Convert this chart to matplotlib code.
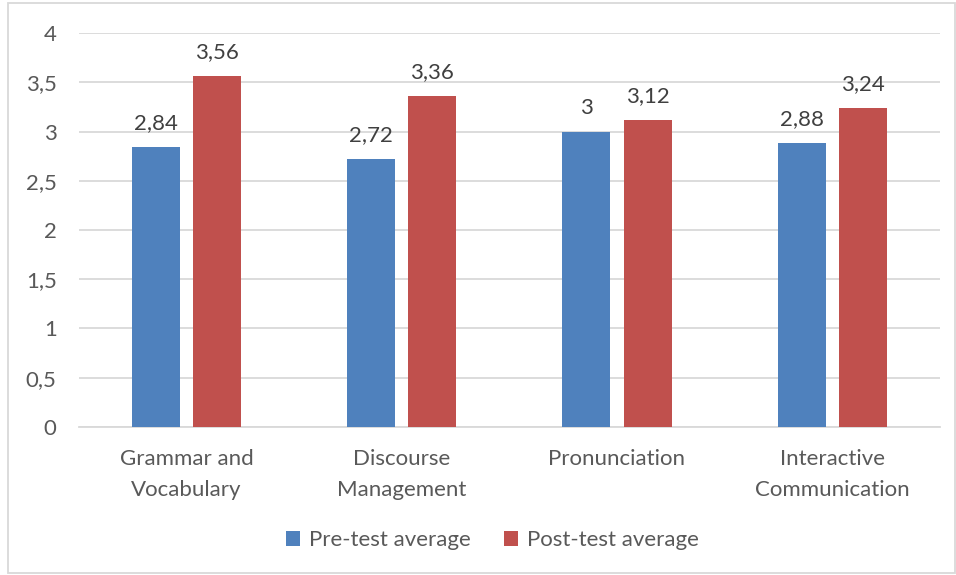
import numpy as np
import matplotlib.pyplot as plt
from matplotlib.patches import Rectangle

plt.rcParams['font.family'] = ['Lato', 'DejaVu Sans']

categories = ["Grammar and\nVocabulary", "Discourse\nManagement", "Pronunciation", "Interactive\nCommunication"]
pre_test = [2.84, 2.72, 3.00, 2.88]
post_test = [3.56, 3.36, 3.12, 3.24]
yticks = [0, 0.5, 1, 1.5, 2, 2.5, 3, 3.5, 4]

blue = "#4F81BD"
red = "#C0504D"
txt = "#595959"
grid = "#D9D9D9"
fs = 16


def comma(v):
    s = ("%.2f" % v).rstrip("0").rstrip(".")
    return s.replace(".", ",")


fig = plt.figure(figsize=(9.56, 5.75), dpi=100)
ax = fig.add_axes([0.0826, 0.2574, 0.9004, 0.6852])

x = np.arange(len(categories))
w = 0.223
off = 0.142
b1 = ax.bar(x - off, pre_test, w, color=blue, label="Pre-test average", zorder=3)
b2 = ax.bar(x + off, post_test, w, color=red, label="Post-test average", zorder=3)

for bars, vals in ((b1, pre_test), (b2, post_test)):
    for b, v in zip(bars, vals):
        ax.annotate(comma(v), (b.get_x() + b.get_width() / 2, v), xytext=(0, 10),
                    textcoords="offset points", ha="center", va="bottom",
                    fontsize=fs, color="#404040")

ax.set_xlim(-0.5, len(categories) - 0.5)
ax.set_ylim(0, 4)
ax.set_yticks(yticks)
ax.set_yticklabels([comma(t) for t in yticks])
ax.set_xticks(x)
ax.set_xticklabels(categories, linespacing=1.65)
ax.tick_params(axis="y", length=0, pad=16, labelsize=fs, labelcolor=txt)
ax.tick_params(axis="x", length=0, pad=16, labelsize=fs, labelcolor=txt)
ax.yaxis.grid(True, color=grid, linewidth=1.3, zorder=0)
for s in ("top", "right", "left"):
    ax.spines[s].set_visible(False)
ax.spines["bottom"].set_color(grid)
ax.spines["bottom"].set_linewidth(1.3)

fig.legend(handles=[b1, b2], loc="center", bbox_to_anchor=(0.515, 0.06), ncol=2,
           frameon=False, fontsize=fs, labelcolor=txt, handlelength=0.65,
           handleheight=0.65, handletextpad=0.4, columnspacing=1.5)

fig.patches.append(Rectangle((8 / 956, 2 / 575), 947 / 956, 570 / 575,
                             transform=fig.transFigure, fill=False,
                             edgecolor="#D9D9D9", linewidth=1.3))

fig.savefig("out.png", dpi=100)
